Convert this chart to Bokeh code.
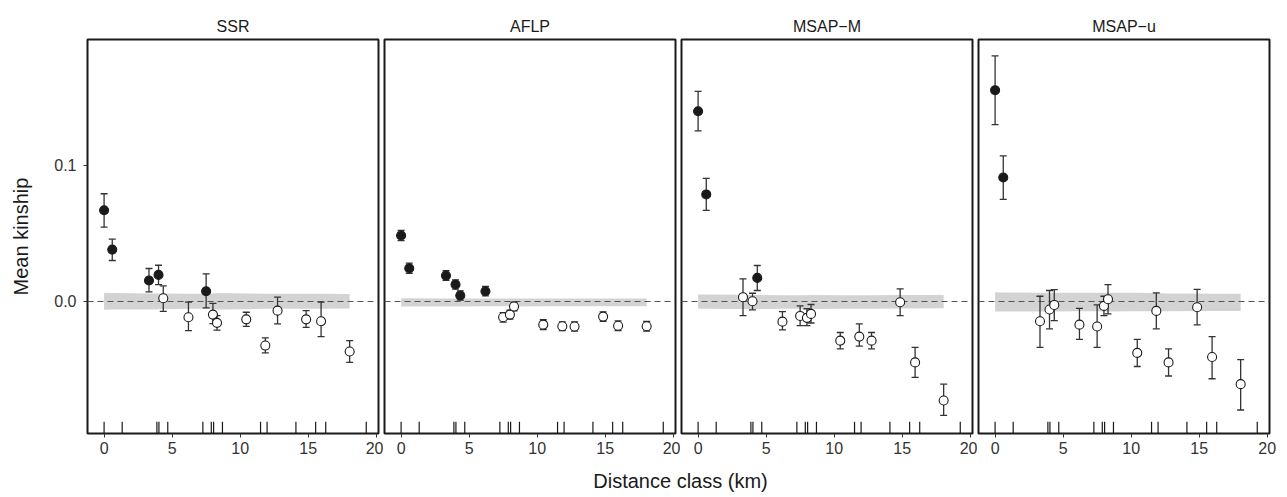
from bokeh.plotting import figure
from bokeh.layouts import row, column
from bokeh.models import Range1d, FixedTicker, PrintfTickFormatter, Label
from bokeh.embed import file_html
from bokeh.resources import INLINE

# ---------------- data ----------------
panels = ["SSR", "AFLP", "MSAP\u2212M", "MSAP\u2212u"]

dist = [0.0, 0.6, 3.3, 4.0, 4.35, 6.2, 7.5, 8.0, 8.3, 10.45, 11.85, 12.75, 14.85, 15.95, 18.05]
rug_x = [0.0, 1.33, 3.88, 4.03, 4.68, 7.26, 7.88, 8.05, 8.7, 11.5, 11.98, 14.1, 15.55, 16.29, 19.27]

ssr_y  = [0.067, 0.038, 0.0153, 0.0194, 0.0022, -0.0118, 0.0074, -0.0098, -0.0159, -0.0133, -0.0326, -0.0069, -0.0133, -0.0147, -0.037]
ssr_lo = [0.0545, 0.030, 0.0069, 0.0123, -0.0074, -0.0216, -0.0049, -0.0165, -0.0212, -0.0185, -0.038, -0.0167, -0.0192, -0.026, -0.045]
ssr_hi = [0.0791, 0.0457, 0.0241, 0.0265, 0.0113, -0.0007, 0.0202, -0.0015, -0.0105, -0.0081, -0.027, 0.003, -0.0069, -0.0007, -0.029]
ssr_sig = [1, 1, 1, 1, 0, 0, 1, 0, 0, 0, 0, 0, 0, 0, 0]
ssr_band_lo = [-0.0063, -0.006, -0.006, -0.0058, -0.0058, -0.0055, -0.0055, -0.0058, -0.006, -0.0058, -0.0055, -0.0055, -0.0055, -0.0055, -0.0054]
ssr_band_hi = [0.0062, 0.006, 0.0058, 0.0058, 0.0058, 0.0055, 0.0055, 0.0057, 0.006, 0.0058, 0.0055, 0.0055, 0.0056, 0.0055, 0.0054]

aflp_y  = [0.0484, 0.0243, 0.0189, 0.0123, 0.0042, 0.0074, -0.0118, -0.0098, -0.0039, -0.0172, -0.0184, -0.0186, -0.0113, -0.018, -0.0184]
aflp_lo = [0.0446, 0.0206, 0.0153, 0.0089, 0.0008, 0.0039, -0.0153, -0.0131, -0.0071, -0.0208, -0.0216, -0.0220, -0.0148, -0.0215, -0.0219]
aflp_hi = [0.0522, 0.0280, 0.0225, 0.0157, 0.0076, 0.0109, -0.0083, -0.0065, -0.0007, -0.0136, -0.0152, -0.0152, -0.0078, -0.0145, -0.0149]
aflp_sig = [1, 1, 1, 1, 1, 1, 0, 0, 0, 0, 0, 0, 0, 0, 0]
aflp_band_lo = [-0.0039, -0.0039, -0.0038, -0.0038, -0.0038, -0.0037, -0.0037, -0.0038, -0.0038, -0.0037, -0.0037, -0.0037, -0.0037, -0.0037, -0.0037]
aflp_band_hi = [0.0022, 0.0022, 0.0021, 0.0021, 0.0021, 0.0020, 0.0020, 0.0021, 0.0021, 0.0020, 0.0020, 0.0020, 0.0020, 0.0020, 0.0020]

msapm_y  = [0.1398, 0.0786, 0.003, 0.0, 0.0172, -0.015, -0.0108, -0.0122, -0.0093, -0.029, -0.026, -0.029, -0.0007, -0.045, -0.073]
msapm_lo = [0.1253, 0.0668, -0.0105, -0.0063, 0.0079, -0.021, -0.018, -0.018, -0.016, -0.035, -0.033, -0.035, -0.0105, -0.056, -0.084]
msapm_hi = [0.1545, 0.0904, 0.0165, 0.0059, 0.0263, -0.0076, -0.0034, -0.0055, -0.0024, -0.023, -0.0167, -0.023, 0.0091, -0.034, -0.061]
msapm_sig = [1, 1, 0, 0, 1, 0, 0, 0, 0, 0, 0, 0, 0, 0, 0]
msapm_band_lo = [-0.0056, -0.0056, -0.0057, -0.0057, -0.0057, -0.0056, -0.0056, -0.0057, -0.0057, -0.0056, -0.0055, -0.0055, -0.0054, -0.0053, -0.0052]
msapm_band_hi = [0.0050, 0.0049, 0.0047, 0.0046, 0.0046, 0.0045, 0.0045, 0.0045, 0.0046, 0.0045, 0.0045, 0.0045, 0.0046, 0.0046, 0.0046]

msapu_y  = [0.1553, 0.0911, -0.0147, -0.0061, -0.0027, -0.0172, -0.0186, -0.0034, 0.0015, -0.038, -0.0071, -0.045, -0.0044, -0.041, -0.061]
msapu_lo = [0.130, 0.0749, -0.034, -0.0203, -0.0142, -0.028, -0.034, -0.0105, -0.0093, -0.048, -0.0203, -0.055, -0.0174, -0.057, -0.080]
msapu_hi = [0.1805, 0.1069, 0.0037, 0.0079, 0.0086, -0.0052, -0.0027, 0.0037, 0.0123, -0.028, 0.0062, -0.035, 0.0088, -0.026, -0.043]
msapu_sig = [1, 1, 0, 0, 0, 0, 0, 0, 0, 0, 0, 0, 0, 0, 0]
msapu_band_lo = [-0.0076, -0.0076, -0.0075, -0.0075, -0.0075, -0.0074, -0.0074, -0.0075, -0.0075, -0.0074, -0.0073, -0.0073, -0.0072, -0.0072, -0.0072]
msapu_band_hi = [0.0066, 0.0065, 0.0063, 0.0062, 0.0062, 0.0062, 0.0062, 0.0063, 0.0063, 0.0062, 0.0060, 0.0058, 0.0057, 0.0056, 0.0056]

x_ticks = [0, 5, 10, 15, 20]
y_ticks = [0.0, 0.1]

series = [
    (ssr_y, ssr_lo, ssr_hi, ssr_sig, ssr_band_lo, ssr_band_hi),
    (aflp_y, aflp_lo, aflp_hi, aflp_sig, aflp_band_lo, aflp_band_hi),
    (msapm_y, msapm_lo, msapm_hi, msapm_sig, msapm_band_lo, msapm_band_hi),
    (msapu_y, msapu_lo, msapu_hi, msapu_sig, msapu_band_lo, msapu_band_hi),
]

# ---------------- style ----------------
FONT = "Liberation Sans"
XR = (-1.22, 20.17)
YR = (-0.0973, 0.1926)
INK = "#1a1a1a"
BAR = "#333333"

figs = []
for i, (name, (yv, lo, hi, sig, blo, bhi)) in enumerate(zip(panels, series)):
    p = figure(
        frame_width=291, frame_height=394,
        x_range=Range1d(*XR), y_range=Range1d(*YR),
        output_backend="svg", toolbar_location=None,
        y_axis_location=("left" if i == 0 else None),
        min_border_left=(87 if i == 0 else 1),
        min_border_right=(10 if i == 3 else 5),
        min_border_top=39, min_border_bottom=30,
        title=name,
    )
    p.title.align = "center"
    p.title.text_font = FONT
    p.title.text_font_size = "16px"
    p.title.text_font_style = "normal"
    p.title.text_color = INK
    p.xgrid.visible = False
    p.ygrid.visible = False
    p.outline_line_color = INK
    p.outline_line_width = 2
    p.background_fill_color = "white"
    p.border_fill_color = "white"

    xa = p.xaxis[0]
    xa.ticker = FixedTicker(ticks=x_ticks)
    xa.axis_line_color = None
    xa.major_tick_in = 0
    xa.major_tick_out = 4
    xa.major_tick_line_color = BAR
    xa.minor_tick_line_color = None
    xa.major_label_text_font = FONT
    xa.major_label_text_font_size = "16px"
    xa.major_label_text_color = "#333333"
    xa.major_label_standoff = 4

    if i == 0:
        ya = p.yaxis[0]
        ya.ticker = FixedTicker(ticks=y_ticks)
        ya.formatter = PrintfTickFormatter(format="%.1f")
        ya.axis_line_color = None
        ya.major_tick_in = 0
        ya.major_tick_out = 4
        ya.major_tick_line_color = BAR
        ya.minor_tick_line_color = None
        ya.major_label_text_font = FONT
        ya.major_label_text_font_size = "16px"
        ya.major_label_text_color = "#333333"
        ya.major_label_standoff = 7
        ya.axis_label = "Mean kinship"
        ya.axis_label_text_font = FONT
        ya.axis_label_text_font_size = "20px"
        ya.axis_label_text_font_style = "normal"
        ya.axis_label_text_color = INK
        ya.axis_label_standoff = 19

    # null envelope band
    p.varea(x=dist, y1=blo, y2=bhi, fill_color="#d3d3d3", fill_alpha=1)
    # zero reference line
    p.hspan(y=[0.0], line_color="#555555", line_width=1.2, line_dash="6 4")
    # rug of distance class limits
    rug_len = 0.03 * (YR[1] - YR[0])
    p.segment(x0=rug_x, x1=rug_x, y0=[YR[0]] * len(rug_x), y1=[YR[0] + rug_len] * len(rug_x),
              line_color=INK, line_width=1.2)
    # error bars
    p.segment(x0=dist, x1=dist, y0=lo, y1=hi, line_color=BAR, line_width=1.3)
    p.scatter(x=dist, y=lo, marker="dash", size=7, line_color=BAR, line_width=1.3)
    p.scatter(x=dist, y=hi, marker="dash", size=7, line_color=BAR, line_width=1.3)
    # points
    fills = [INK if s else "white" for s in sig]
    p.scatter(x=dist, y=yv, size=9, fill_color=fills, line_color=INK, line_width=1.1)
    figs.append(p)

top = row(*figs)

total_w = (87 + 291 + 5) + (1 + 291 + 5) * 2 + (1 + 291 + 10)
LH = 34
lab = figure(width=total_w, height=LH, x_range=Range1d(0, total_w), y_range=Range1d(0, LH),
             output_backend="svg", toolbar_location=None, min_border=0,
             x_axis_location=None, y_axis_location=None)
lab.grid.visible = False
lab.outline_line_color = None
lab.add_layout(Label(x=680, y=17, text="Distance class (km)", text_align="center",
                     text_baseline="alphabetic", text_font=FONT, text_font_size="20px",
                     text_color=INK))

layout = column(top, lab)
open("out.html", "w").write(file_html(layout, INLINE))
